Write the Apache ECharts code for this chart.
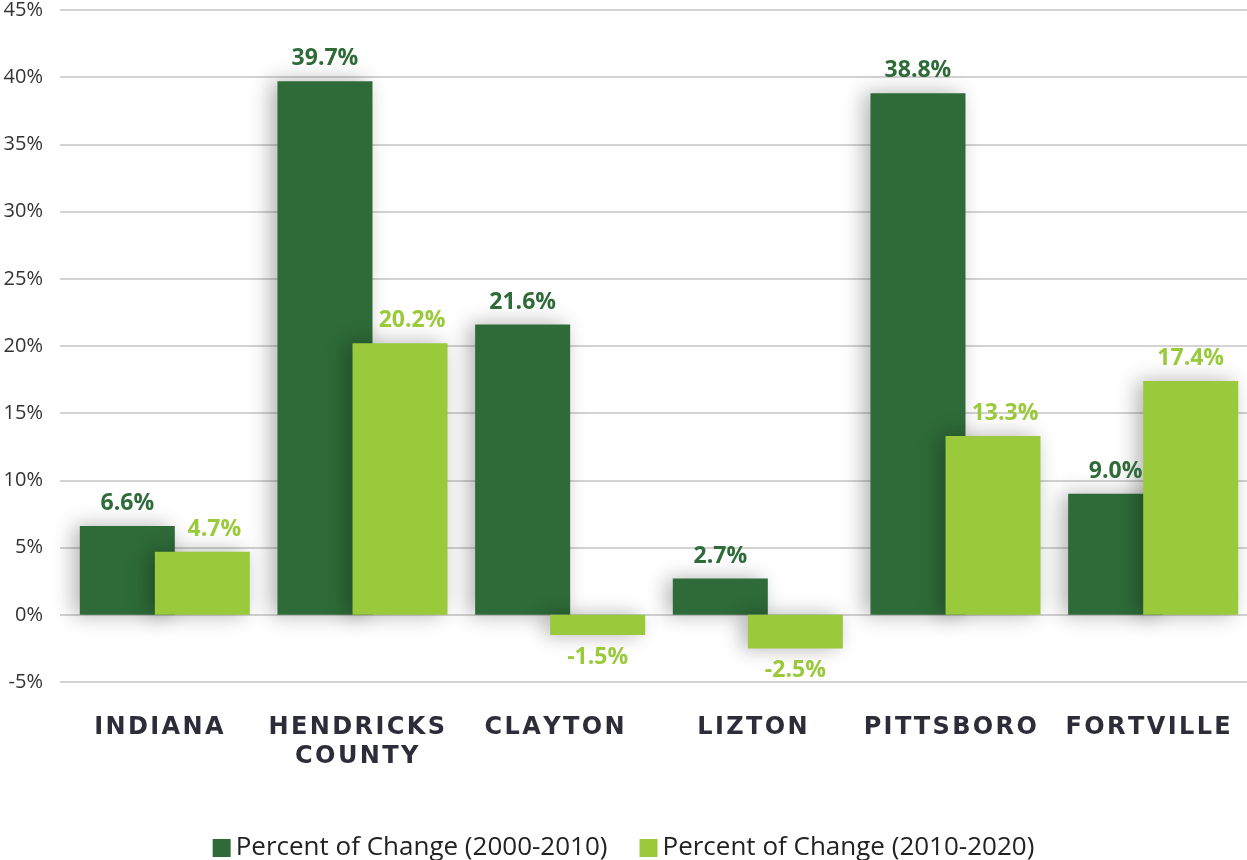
<!DOCTYPE html>
<html>
<head>
<meta charset="utf-8">
<script src="https://cdn.jsdelivr.net/npm/echarts@6/dist/echarts.min.js"></script>
<style>
  html, body { margin: 0; padding: 0; background: #fff; }
  #chart { width: 1247px; height: 860px; }
</style>
</head>
<body>
<div id="chart"></div>
<script>
// Population change by place
const categories = ['INDIANA', 'HENDRICKS\nCOUNTY', 'CLAYTON', 'LIZTON', 'PITTSBORO', 'FORTVILLE'];
const change2000_2010 = [6.6, 39.7, 21.6, 2.7, 38.8, 9.0];
const change2010_2020 = [4.7, 20.2, -1.5, -2.5, 13.3, 17.4];
const seriesNames = ['Percent of Change (2000-2010)', 'Percent of Change (2010-2020)'];
const yTicks = { min: -5, max: 45, interval: 5 };

const DARK = '#2e6b38';
const LIGHT = '#9aca3c';

// spread capital letters a little, like tracked-out type
function track(s) {
  return s.split('\n').map(line => line.split('').join('\u200A')).join('\n');
}

// per-bar label placement: below negative bars; nudge the second bar's
// label right when the neighbouring bar is taller so the two stay apart
function barData(values, neighbour) {
  return values.map((v, i) => {
    const label = { position: v < 0 ? 'bottom' : 'top' };
    if (neighbour && v > 0 && neighbour[i] > v) label.offset = [12, 0];
    return { value: v, label: label };
  });
}

function barSeries(name, values, color, neighbour) {
  return {
    name: name,
    type: 'bar',
    xAxisIndex: 1,
    yAxisIndex: 1,
    barWidth: 95,
    barGap: '-21%',
    data: barData(values, neighbour),
    itemStyle: {
      color: color,
      shadowColor: 'rgba(0,0,0,0.3)',
      shadowBlur: 20,
      shadowOffsetX: -6
    },
    label: {
      show: true,
      distance: 11,
      color: color,
      fontFamily: 'Open Sans',
      fontWeight: 'bold',
      fontSize: 23,
      formatter: p => p.value.toFixed(1) + '%'
    }
  };
}

const chart = echarts.init(document.getElementById('chart'), null, { renderer: 'canvas' });
chart.setOption({
  animation: false,
  backgroundColor: '#fff',
  grid: [
    { left: 60, right: 0, top: 10, bottom: 178, outerBoundsMode: 'none' },
    { left: 66, width: 1186, top: 10, bottom: 178, outerBoundsMode: 'none' }
  ],
  legend: {
    top: 830,
    left: 'center',
    itemWidth: 18,
    itemHeight: 18,
    itemGap: 32,
    icon: 'rect',
    textStyle: { fontFamily: 'Open Sans', fontSize: 26, color: '#222' },
    data: seriesNames
  },
  xAxis: [
    {
      type: 'category',
      gridIndex: 0,
      data: categories,
      axisLine: { show: false },
      axisTick: { show: false },
      axisLabel: {
        margin: 31,
        interval: 0,
        color: '#2d2d3a',
        fontFamily: 'DejaVu Sans',
        fontWeight: 'bold',
        fontSize: 24,
        lineHeight: 29,
        formatter: v => track(v)
      }
    },
    { type: 'category', gridIndex: 1, data: categories, show: false }
  ],
  yAxis: [
    {
      type: 'value',
      gridIndex: 0,
      min: yTicks.min,
      max: yTicks.max,
      interval: yTicks.interval,
      axisLine: { show: false },
      axisTick: { show: false },
      axisLabel: {
        margin: 17,
        color: '#333',
        fontFamily: 'Open Sans',
        fontSize: 20,
        formatter: '{value}%'
      },
      splitLine: { lineStyle: { color: '#c4c4c4', width: 1.5 } }
    },
    {
      type: 'value',
      gridIndex: 1,
      min: yTicks.min,
      max: yTicks.max,
      interval: yTicks.interval,
      show: false,
      splitLine: { show: false }
    }
  ],
  series: [
    barSeries(seriesNames[0], change2000_2010, DARK, null),
    barSeries(seriesNames[1], change2010_2020, LIGHT, change2000_2010)
  ]
});
</script>
</body>
</html>
